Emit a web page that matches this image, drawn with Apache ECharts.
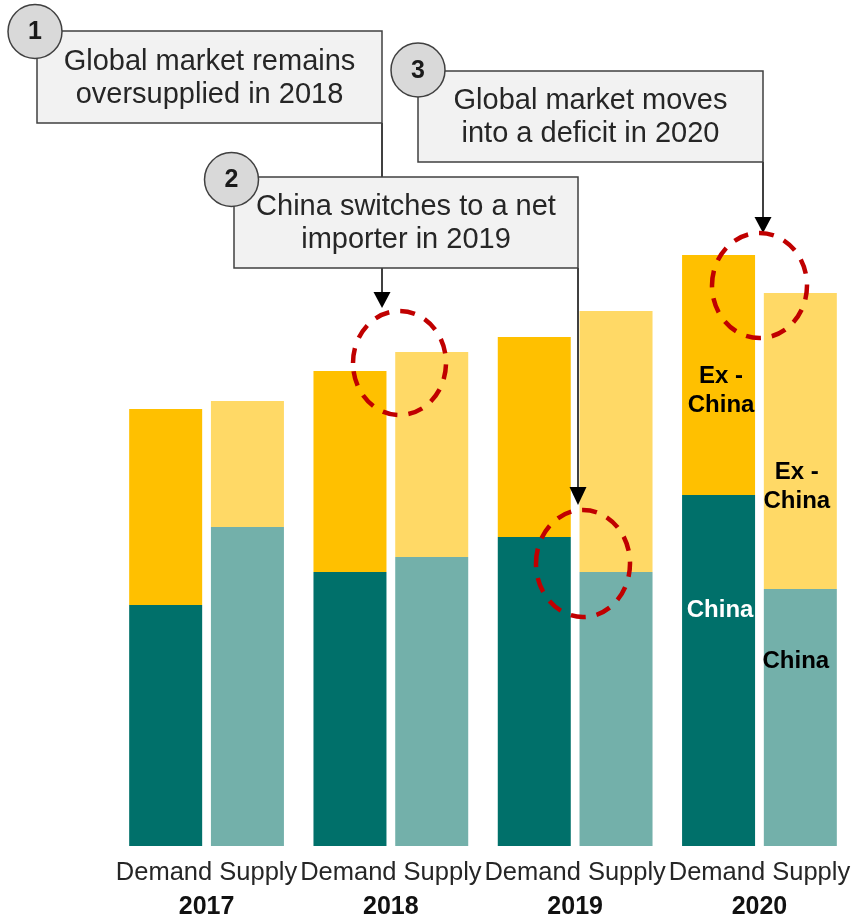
<!DOCTYPE html>
<html>
<head>
<meta charset="utf-8">
<script src="https://cdn.jsdelivr.net/npm/echarts@6/dist/echarts.min.js"></script>
<style>
  html, body { margin: 0; padding: 0; background: #ffffff; }
  #chart { width: 862px; height: 918px; }
</style>
</head>
<body>
<div id="chart"></div>
<script>
// ---- Data (arbitrary units) ----
const years = ['2017', '2018', '2019', '2020'];
const barNames = ['Demand', 'Supply'];
const demandChina   = [241, 274, 309, 351];
const demandExChina = [196, 201, 200, 240];
const supplyChina   = [319, 289, 274, 257];
const supplyExChina = [126, 205, 261, 296];

const FONT = "'Liberation Sans', Arial, sans-serif";

const chart = echarts.init(document.getElementById('chart'), null, { renderer: 'canvas' });

function lastLabel(arr, cfg) {
  return arr.map((v, i) => i === arr.length - 1 ? { value: v, label: Object.assign({ show: true }, cfg) } : v);
}
const lblBase = { fontFamily: FONT, fontSize: 24, fontWeight: 'bold', lineHeight: 29, align: 'center', verticalAlign: 'middle' };

function txt(x, y, text, size, weight, color, lh) {
  return {
    type: 'text', z: 110,
    style: {
      x: x, y: y, text: text, fill: color,
      font: (weight || 'normal') + ' ' + size + 'px ' + FONT,
      fontSize: size, fontWeight: weight || 'normal', fontFamily: FONT,
      align: 'center', verticalAlign: 'middle', textAlign: 'center', textVerticalAlign: 'middle',
      lineHeight: lh || size
    }
  };
}
function vline(x, y1, y2) {
  return { type: 'line', z: 100, shape: { x1: x, y1: y1, x2: x, y2: y2 }, style: { stroke: '#000', lineWidth: 1.5 } };
}
function arrow(x, yTop, yTip) {
  return { type: 'polygon', z: 101, shape: { points: [[x - 8.5, yTop], [x + 8.5, yTop], [x, yTip]] }, style: { fill: '#000' } };
}
function box(x, y, w, h) {
  return { type: 'rect', z: 102, shape: { x: x, y: y, width: w, height: h }, style: { fill: '#F2F2F2', stroke: '#404040', lineWidth: 1.5 } };
}
function badge(cx, cy, n) {
  return [
    { type: 'circle', z: 104, shape: { cx: cx, cy: cy, r: 27 }, style: { fill: '#D9D9D9', stroke: '#404040', lineWidth: 1.5 } },
    txt(cx, cy + 1, n, 25, 'bold', '#1a1a1a')
  ];
}
function dashed(cx, cy, rx, ry) {
  return { type: 'ellipse', z: 105, shape: { cx: cx, cy: cy, rx: rx, ry: ry }, style: { fill: null, stroke: '#C00000', lineWidth: 4.5, lineDash: [15, 11] } };
}

const graphics = [].concat(
  [vline(382, 123, 294), vline(578, 268, 489), vline(763, 162, 219)],
  [box(37, 31, 345, 92), txt(209.5, 78, 'Global market remains\noversupplied in 2018', 29, 'normal', '#262626', 33)],
  [box(418, 71, 345, 91), txt(590.5, 117.5, 'Global market moves\ninto a deficit in 2020', 29, 'normal', '#262626', 33)],
  [box(234, 177, 344, 91), txt(406, 223.5, 'China switches to a net\nimporter in 2019', 29, 'normal', '#262626', 33)],
  badge(35, 31.5, '1'), badge(231.5, 179.5, '2'), badge(418, 70, '3'),
  [arrow(382, 292, 308), arrow(578, 487, 505), arrow(763, 217, 233)],
  [dashed(399.5, 363, 46.5, 52), dashed(583, 563.5, 47, 53.5), dashed(759.5, 285.5, 47.5, 52.5)]
);

const option = {
  backgroundColor: '#ffffff',
  animation: false,
  grid: { left: 114.4, right: 10.4, top: 246, bottom: 72, containLabel: false, outerBoundsMode: 'none' },
  xAxis: {
    type: 'category',
    data: years,
    axisLine: { show: false },
    axisTick: { show: false },
    axisLabel: {
      interval: 0,
      margin: 10,
      formatter: function (v) { return '{a|' + barNames.join(' ') + '}\n{b|' + v + '}'; },
      rich: {
        a: { fontFamily: FONT, fontSize: 25.5, color: '#262626', lineHeight: 34 },
        b: { fontFamily: FONT, fontSize: 25, fontWeight: 'bold', color: '#111111', lineHeight: 34 }
      }
    }
  },
  yAxis: { type: 'value', min: 0, max: 600, show: false, splitLine: { show: false } },
  series: [
    { name: 'Demand China', type: 'bar', stack: 'demand', barWidth: 73, barGap: '12%',
      itemStyle: { color: '#00706A' },
      data: lastLabel(demandChina, Object.assign({}, lblBase, { formatter: 'China', color: '#ffffff', position: [38, 115] })) },
    { name: 'Demand Ex-China', type: 'bar', stack: 'demand', barWidth: 73, barGap: '12%',
      itemStyle: { color: '#FFC000' },
      data: lastLabel(demandExChina, Object.assign({}, lblBase, { formatter: 'Ex -\nChina', color: '#000000', position: [39, 136] })) },
    { name: 'Supply China', type: 'bar', stack: 'supply', barWidth: 73, barGap: '12%',
      itemStyle: { color: '#73B0AA' },
      data: lastLabel(supplyChina, Object.assign({}, lblBase, { formatter: 'China', color: '#000000', position: [32, 72] })) },
    { name: 'Supply Ex-China', type: 'bar', stack: 'supply', barWidth: 73, barGap: '12%',
      itemStyle: { color: '#FFD966' },
      data: lastLabel(supplyExChina, Object.assign({}, lblBase, { formatter: 'Ex -\nChina', color: '#000000', position: [33, 194] })) }
  ],
  graphic: { elements: graphics }
};

chart.setOption(option);
</script>
</body>
</html>
